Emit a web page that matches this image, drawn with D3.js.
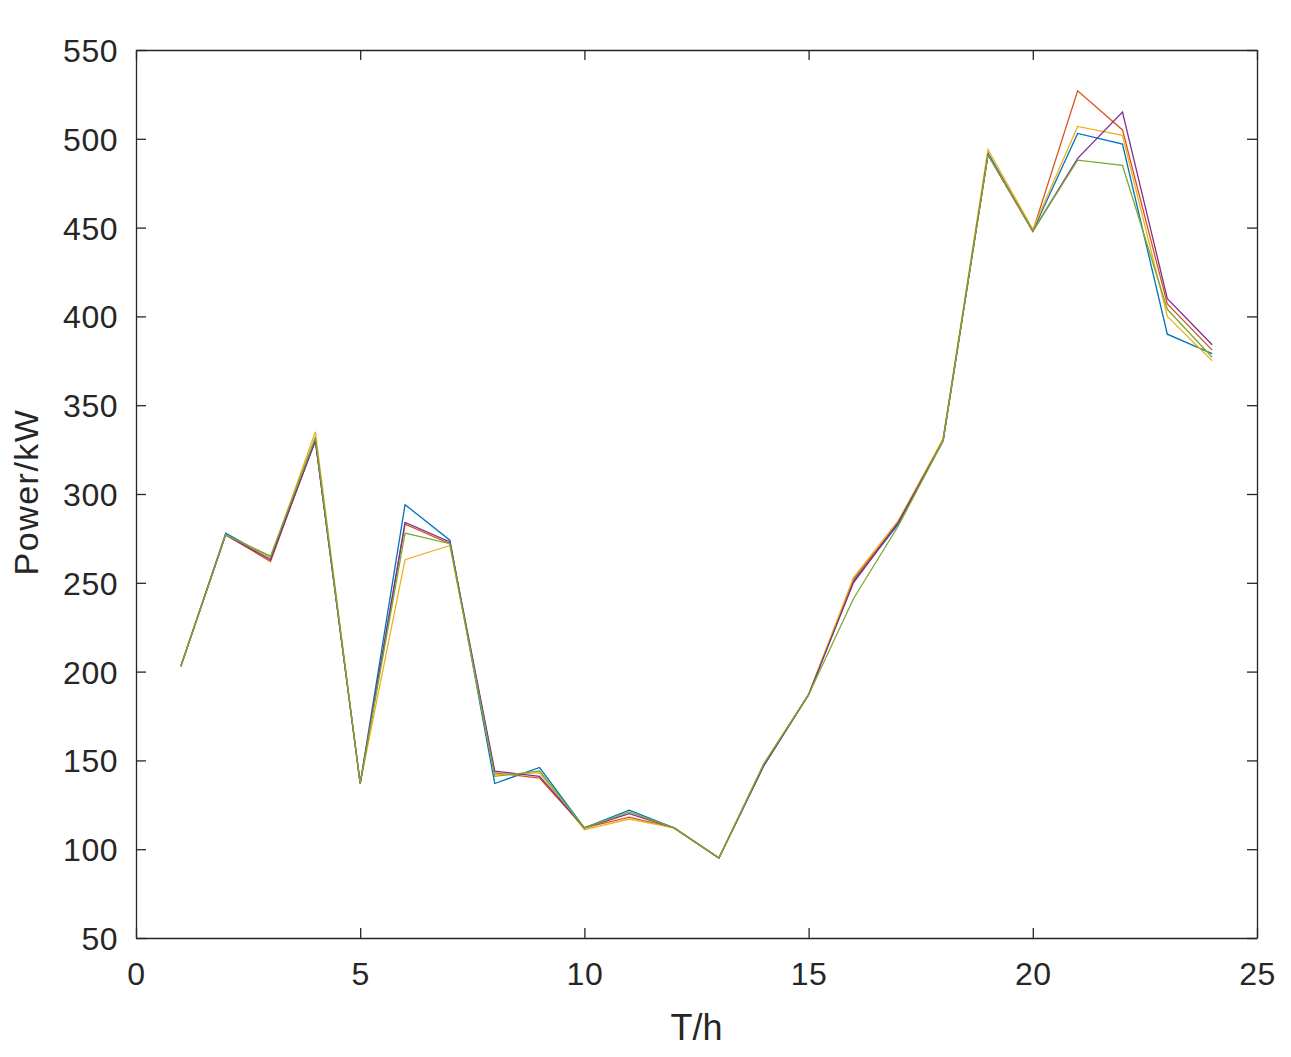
<!DOCTYPE html>
<html><head><meta charset="utf-8">
<script src="https://cdn.jsdelivr.net/npm/d3@7"></script>
<style>body{margin:0;background:#fff}svg{display:block}</style>
</head><body>
<script>
const hours = d3.range(1, 25);
const seriesBlue   = [203,278,264,330,137,294,274,137,146,112,122,112,95,147,187,251,283,330,492,448,503,497,390,379];
const seriesOrange = [203,277,262,331,137,283,272,143,140,112,118,112,95,148,187,252,284,331,491,448,527,505,407,381];
const seriesYellow = [203,277,264,335,137,263,271,142,143,111,117,112,95,148,187,253,285,331,494,449,507,502,400,375];
const seriesPurple = [203,277,263,330,137,284,273,144,141,112,120,112,95,147,187,250,284,330,491,448,489,515,410,384];
const seriesGreen  = [203,277,265,332,137,278,272,141,144,112,121,112,95,148,187,241,282,330,491,448,488,485,404,377];
const seriesList = [seriesBlue, seriesOrange, seriesYellow, seriesPurple, seriesGreen];
const colors = ["#0072BD","#D95319","#EDB120","#7E2F8E","#77AC30"];
const xTicks = [0,5,10,15,20,25];
const yTicks = [50,100,150,200,250,300,350,400,450,500,550];

const W = 1291, H = 1057;
const L = 136, R = 1257, T = 50, B = 938;
const svg = d3.select("body").append("svg").attr("width", W).attr("height", H);
const x = d3.scaleLinear().domain([0,25]).range([L,R]);
const y = d3.scaleLinear().domain([50,550]).range([B,T]);
const font = "'Liberation Sans', Arial, sans-serif";

const line = d3.line().x((d,i)=>x(hours[i])).y(d=>y(d));
seriesList.forEach((s,k)=>{
  svg.append("path").attr("d", line(s)).attr("fill","none")
    .attr("stroke", colors[k]).attr("stroke-width",1.3);
});

const tl = 10;
const gx = svg.append("g").attr("transform",`translate(0,${B})`)
  .call(d3.axisBottom(x).tickValues(xTicks).tickSizeInner(-tl).tickSizeOuter(0).tickPadding(24));
const gxt = svg.append("g").attr("transform",`translate(0,${T})`)
  .call(d3.axisTop(x).tickValues(xTicks).tickSizeInner(-tl).tickSizeOuter(0).tickFormat(""));
const gy = svg.append("g").attr("transform",`translate(${L},0)`)
  .call(d3.axisLeft(y).tickValues(yTicks).tickSizeInner(-tl).tickSizeOuter(0).tickPadding(18));
const gyr = svg.append("g").attr("transform",`translate(${R},0)`)
  .call(d3.axisRight(y).tickValues(yTicks).tickSizeInner(-tl).tickSizeOuter(0).tickFormat(""));
[gx,gxt,gy,gyr].forEach(g=>{
  g.selectAll("path").attr("stroke","#262626").attr("stroke-width",1.3);
  g.selectAll("line").attr("stroke","#262626").attr("stroke-width",1.3);
  g.selectAll("text").attr("fill","#262626").attr("font-family",font).attr("font-size",32)
    .attr("letter-spacing",0.5);
});
gy.selectAll("text").attr("dy","0.36em");

svg.append("text").attr("x",(L+R)/2).attr("y",1040).attr("text-anchor","middle")
  .attr("font-family",font).attr("font-size",36).attr("fill","#262626").text("T/h");
svg.append("text").attr("transform",`translate(38,492) rotate(-90)`).attr("text-anchor","middle")
  .attr("font-family",font).attr("font-size",34).attr("letter-spacing",1.5).attr("fill","#262626").text("Power/kW");
</script>
</body></html>
